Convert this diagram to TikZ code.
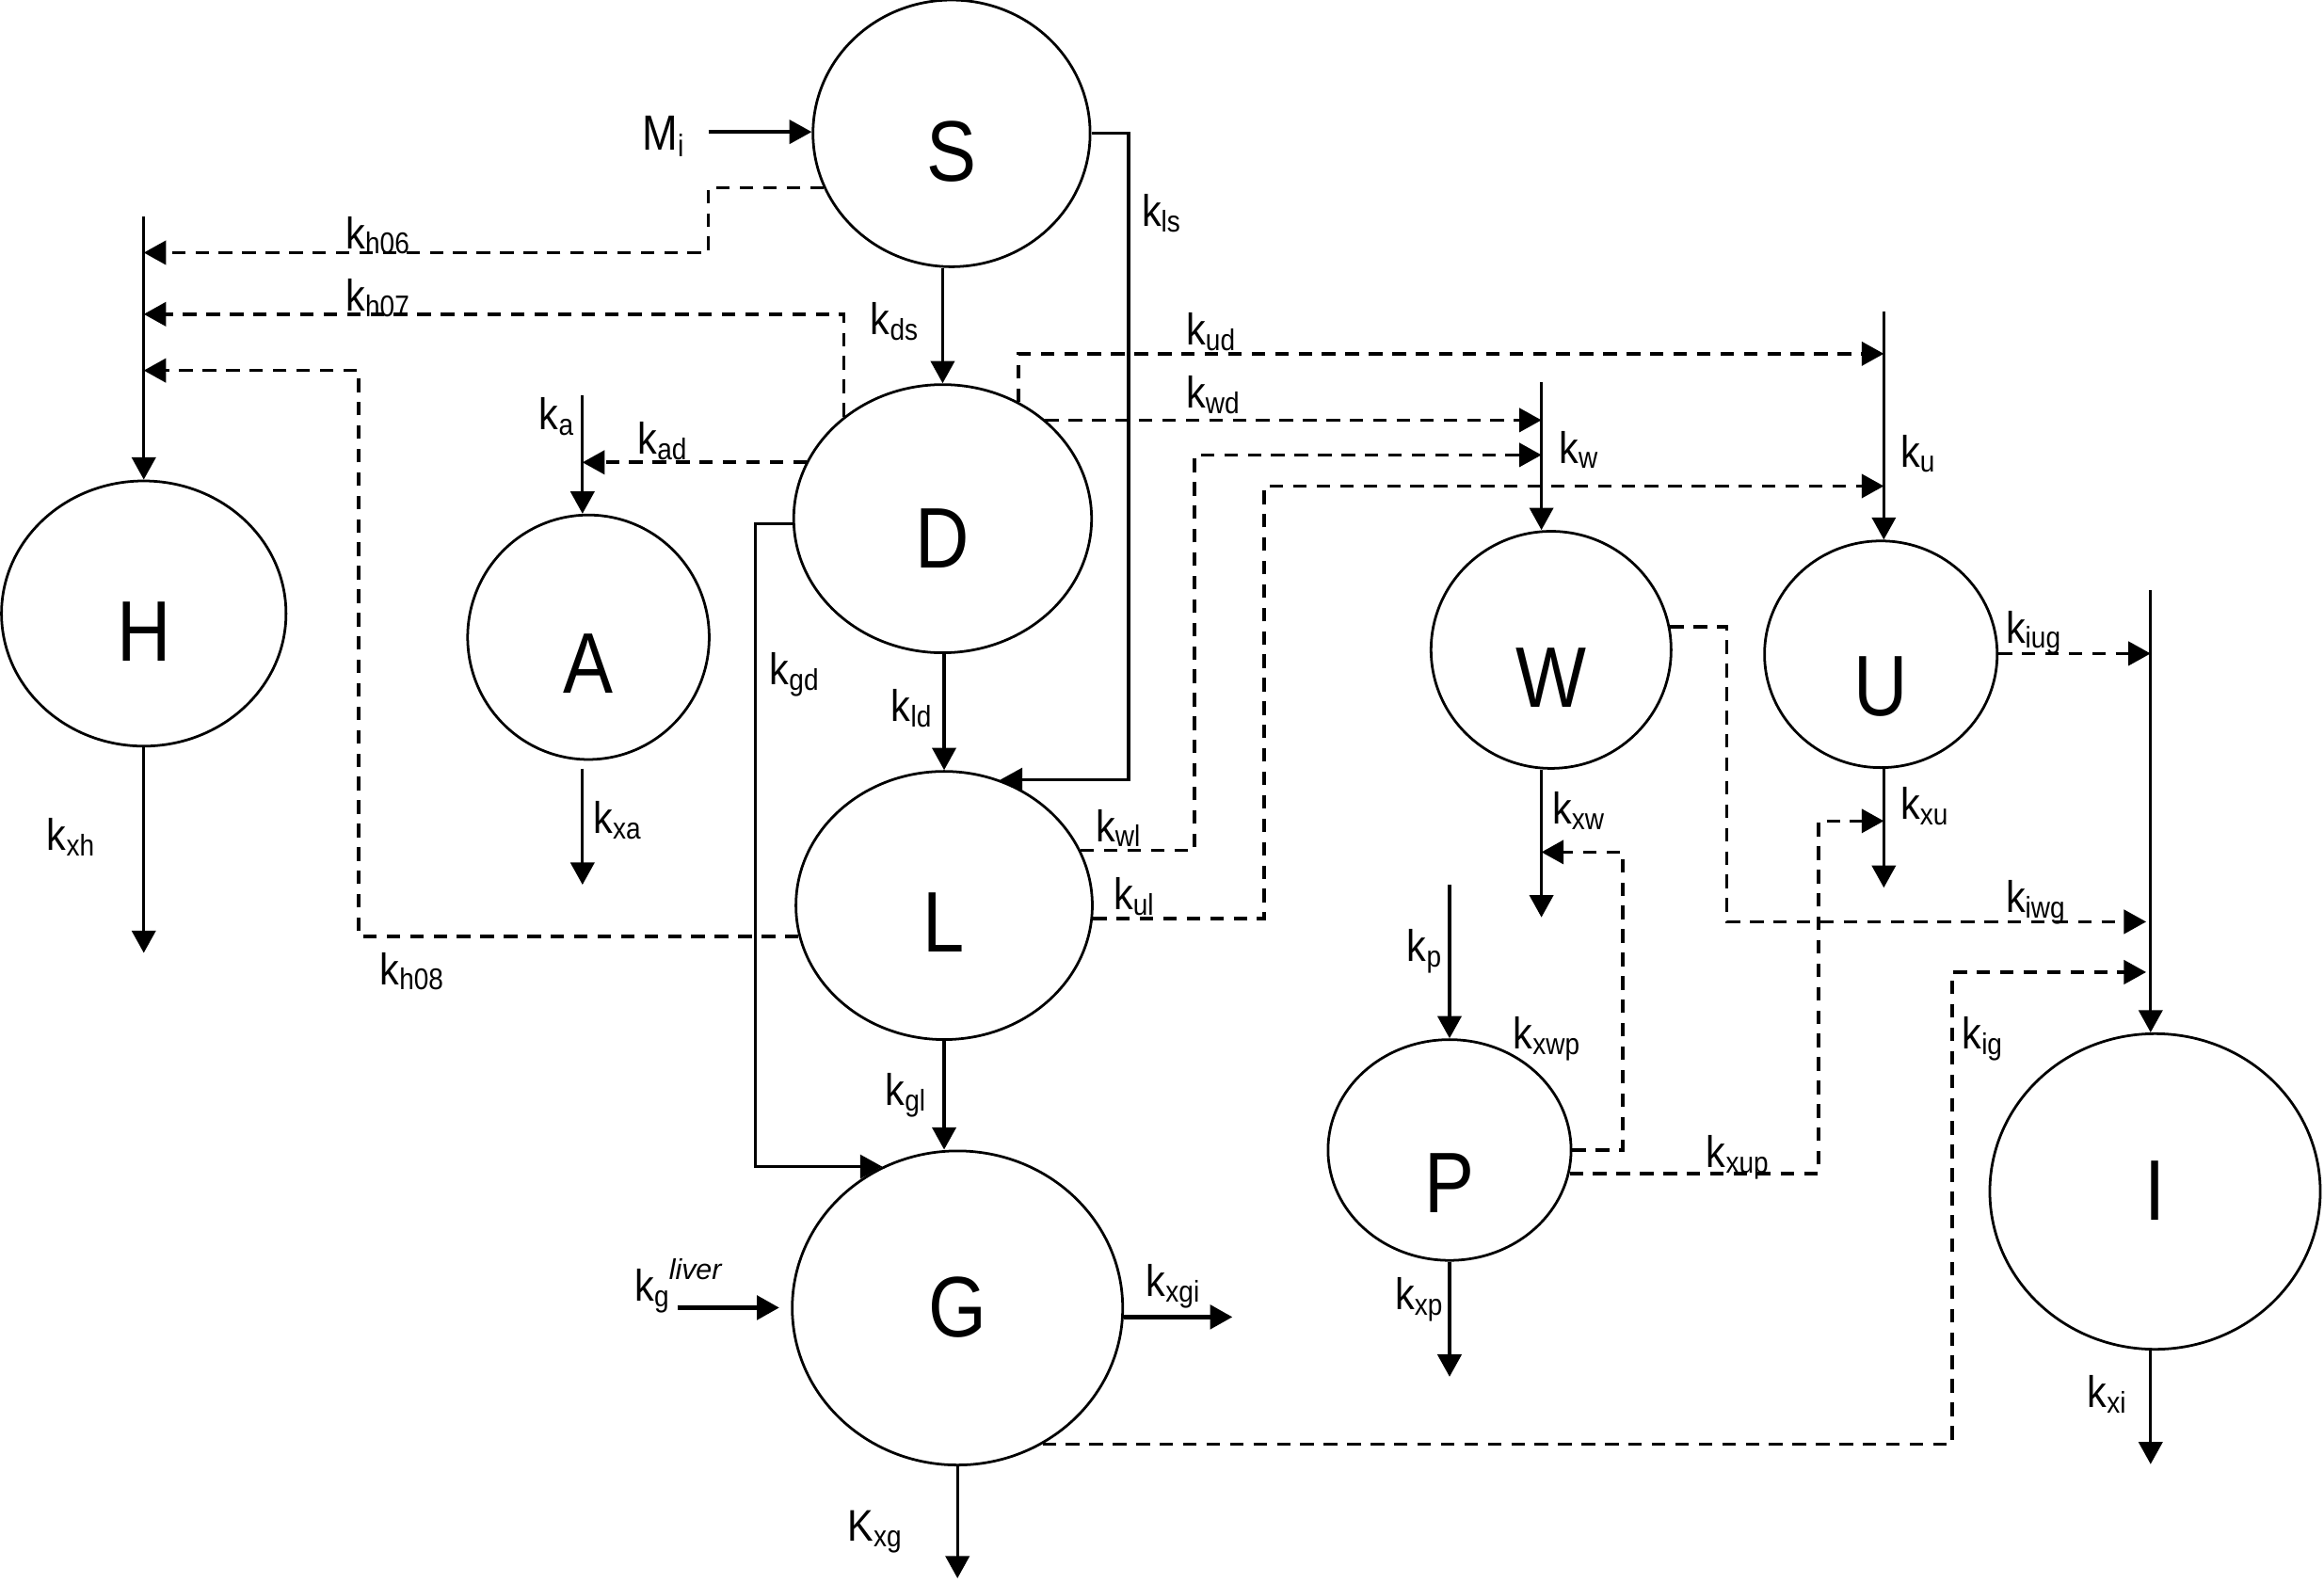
\documentclass[tikz,border=0pt]{standalone}
\usepackage{fontspec}
\setmainfont{Liberation Sans}
\usetikzlibrary{arrows.meta,shapes.geometric}
\newcommand{\kk}[2]{\scalebox{0.88}[1]{#1\raisebox{-2pt}{\fontsize{11.5}{13}\selectfont #2}}}
\begin{document}
\begin{tikzpicture}[x=0.02cm,y=-0.02cm,
 cmp/.style={ellipse,draw,line width=1pt,inner sep=0pt,font=\fontsize{33}{40}\selectfont,text depth=0pt},
 lbl/.style={anchor=base west,inner sep=0pt,font=\fontsize{17}{20}\selectfont},
 arr/.style={line width=1.2pt,-{Triangle[length=0.3cm,width=0.32cm]}},
 dsh/.style={line width=1.3pt,dash pattern=on 5.2pt off 3.8pt,-{Triangle[length=0.3cm,width=0.32cm]}},
]
\useasboundingbox (0,0) rectangle (1568,1068);
% compartments
\node[cmp,minimum width=3.74cm,minimum height=3.6cm,text height=1.29cm] (S) at (642,90) {\scalebox{0.87}[1]{S}};
\node[cmp,minimum width=4.02cm,minimum height=3.62cm,text height=1.33cm] (D) at (636,350) {\scalebox{0.87}[1]{D}};
\node[cmp,minimum width=3.84cm,minimum height=3.58cm,text height=1.28cm] (H) at (97,414) {\scalebox{0.87}[1]{H}};
\node[cmp,minimum width=3.26cm,minimum height=3.30cm,text height=1.51cm] (A) at (397,430) {\scalebox{0.87}[1]{A}};
\node[cmp,minimum width=4.0cm,minimum height=3.62cm,text height=1.25cm] (L) at (637,611) {\scalebox{0.87}[1]{L}};
\node[cmp,minimum width=4.46cm,minimum height=4.24cm,text height=0.79cm] (G) at (646,882.6) {\scalebox{0.87}[1]{G}};
\node[cmp,minimum width=3.28cm,minimum height=2.98cm,text height=1.70cm] (P) at (978,776) {\scalebox{0.87}[1]{P}};
\node[cmp,minimum width=4.46cm,minimum height=4.26cm,text height=0.77cm] (I) at (1454,804) {\scalebox{0.87}[1]{I}};
\node[cmp,minimum width=3.24cm,minimum height=3.2cm,text height=1.54cm] (W) at (1046.5,438.5) {\scalebox{0.87}[1]{W}};
\node[cmp,minimum width=3.14cm,minimum height=3.06cm,text height=1.65cm] (U) at (1269,441.5) {\scalebox{0.87}[1]{U}};
% free ends
\coordinate (mi0) at (478,89);
\coordinate (htop) at (97,146);
\coordinate (hbot) at (97,643);
\coordinate (atop) at (393,267);
\coordinate (abot) at (393,597);
\coordinate (wtop) at (1040,258);
\coordinate (wbot) at (1040,619);
\coordinate (utop) at (1271,210);
\coordinate (ubot) at (1271,599);
\coordinate (itop) at (1451,398);
\coordinate (ibot) at (1451,988);
\coordinate (ptop) at (978,597);
\coordinate (pbot) at (978,929);
\coordinate (gbot) at (646,1065);
\coordinate (gl0) at (457,882.4);
\coordinate (xgi) at (831.5,888.7);
\coordinate (h6) at (97,170.5);
\coordinate (h7) at (97,212);
\coordinate (h8) at (97,250);
\coordinate (ad) at (393,312);
\coordinate (ud) at (1271,238.7);
\coordinate (wd) at (1040,283.5);
\coordinate (wl) at (1040,307);
\coordinate (ul) at (1271,328);
\coordinate (iug) at (1451,441);
\coordinate (iwg) at (1448,622);
\coordinate (ig) at (1448,656);
\coordinate (xwp) at (1040,575);
\coordinate (xup) at (1271,554);
% solid connectors
\draw[arr] (mi0) -- (mi0 -| S.west);
\draw[arr] (D.north |- S.south) -- (D.north);
\draw[arr] (S.east) -- ++(25,0) |- (L.66);
\draw[arr] (L.north |- D.south) -- (L.north);
\draw[arr] (L.south) -- (L.south |- G.north);
\draw[arr] (D.182) -- ++(-25,0) |- (G.118);
\draw[arr] (htop) -- (H.north);
\draw[arr] (H.south) -- (hbot);
\draw[arr] (atop) -- (atop |- A.north);
\draw[arr,shorten <=3pt] (atop |- A.south) -- (abot);
\draw[arr] (wtop) -- (wtop |- W.north);
\draw[arr] (wtop |- W.south) -- (wbot);
\draw[arr] (utop) -- (utop |- U.north);
\draw[arr] (utop |- U.south) -- (ubot);
\draw[arr] (itop) -- (itop |- I.north);
\draw[arr] (itop |- I.south) -- (ibot);
\draw[arr] (ptop) -- (P.north);
\draw[arr] (P.south) -- (pbot);
\draw[arr] (G.south) -- (gbot);
\draw[arr,line width=1.6pt,shorten >=4.5pt] (gl0) -- (gl0 -| G.west);
\draw[arr,line width=1.6pt] (xgi -| G.east) -- (xgi);
% dashed connectors
\draw[dsh] (S.203) -| (478,170.5) -- (h6);
\draw[dsh] (D.134) |- (h7);
\draw[dsh] (L.192) -| (242,250) -- (h8);
\draw[dsh] (ad -| D.157) -- (ad);
\draw[dsh] (D.57) |- (ud);
\draw[dsh] (wd -| D.44) -- (wd);
\draw[dsh] (L.22) -| (806,307) -- (wl);
\draw[dsh] (L.355) -| (853,328) -- (ul);
\draw[dsh] (iug -| U.east) -- (iug);
\draw[dsh] (W.11) -| (1165,622) -- (iwg);
\draw[dsh] (G.302) -| (1317,656) -- (ig);
\draw[dsh] (P.east) -| (1095,575) -- (xwp);
\draw[dsh] (P.349) -| (1227,554) -- (xup);
% labels
\node[lbl,font=\fontsize{19}{22}\selectfont] (tMi) at (433,101) {\scalebox{0.86}[1]{M\raisebox{-2.8pt}{\fontsize{12}{14}\selectfont i}}};
\node[lbl] (th06) at (233,167.7) {\kk{k}{h06}};
\node[lbl] (th07) at (233,210) {\kk{k}{h07}};
\node[lbl] (th08) at (256,664.5) {\kk{k}{h08}};
\node[lbl] (tls) at (770,153) {\kk{k}{ls}};
\node[lbl] (tds) at (587,226) {\kk{k}{ds}};
\node[lbl] (ta) at (363.5,290) {\kk{k}{a}};
\node[lbl] (tad) at (430,306.7) {\kk{k}{ad}};
\node[lbl] (tgd) at (519,462) {\kk{k}{gd}};
\node[lbl] (tld) at (601,487) {\kk{k}{ld}};
\node[lbl] (txh) at (31.4,574) {\kk{k}{xh}};
\node[lbl] (txa) at (400,562.5) {\kk{k}{xa}};
\node[lbl] (tgl) at (597,746) {\kk{k}{gl}};
\node[lbl] (twl) at (739,568) {\kk{k}{wl}};
\node[lbl] (tul) at (751,614) {\kk{k}{ul}};
\node[lbl] (tud) at (800,233) {\kk{k}{ud}};
\node[lbl] (twd) at (800,275.6) {\kk{k}{wd}};
\node[lbl] (tw) at (1051.6,312.5) {\kk{k}{w}};
\node[lbl] (tu) at (1282,315) {\kk{k}{u}};
\node[lbl] (tiug) at (1353,434) {\kk{k}{iug}};
\node[lbl] (txw) at (1047,556) {\kk{k}{xw}};
\node[lbl] (txu) at (1282,553) {\kk{k}{xu}};
\node[lbl] (tiwg) at (1353,616) {\kk{k}{iwg}};
\node[lbl] (tp) at (949,649) {\kk{k}{p}};
\node[lbl] (txwp) at (1020.6,708) {\kk{k}{xwp}};
\node[lbl] (txup) at (1151,788) {\kk{k}{xup}};
\node[lbl] (tig) at (1323.5,708) {\kk{k}{ig}};
\node[lbl] (tgliver) at (428,878) {\kk{k}{g}\raisebox{8.5pt}{\fontsize{11}{12}\selectfont\itshape liver}};
\node[lbl] (txgi) at (773,875) {\kk{k}{xgi}};
\node[lbl] (txp) at (941,884) {\kk{k}{xp}};
\node[lbl] (txg) at (571.6,1040) {\kk{K}{xg}};
\node[lbl] (txi) at (1408,950) {\kk{k}{xi}};
\end{tikzpicture}
\end{document}
